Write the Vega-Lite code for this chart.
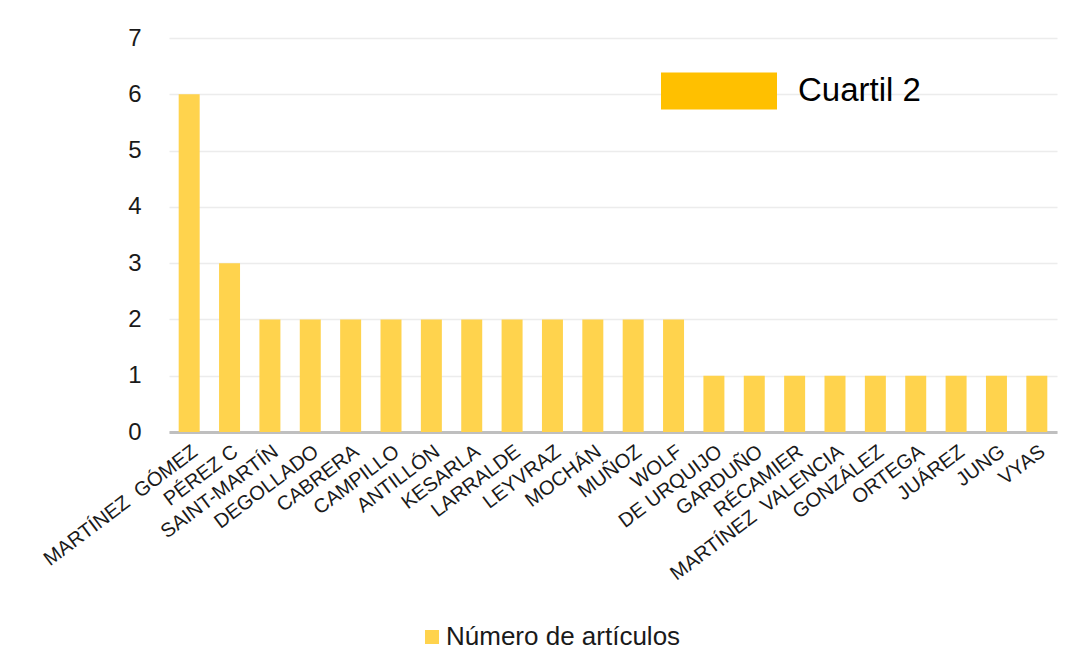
{
  "$schema": "https://vega.github.io/schema/vega-lite/v6.json",
  "autosize": {"type": "none"},
  "padding": {"left": 169, "top": 38, "right": 13, "bottom": 234},
  "width": 888,
  "height": 394,
  "background": "white",
  "data": {
    "values": [
      {"autor": "MARTÍNEZ\u00a0 GÓMEZ", "articulos": 6, "serie": "Número de artículos", "cuartil": "Cuartil 2"},
      {"autor": "PÉREZ C", "articulos": 3, "serie": "Número de artículos", "cuartil": "Cuartil 2"},
      {"autor": "SAINT-MARTÍN", "articulos": 2, "serie": "Número de artículos", "cuartil": "Cuartil 2"},
      {"autor": "DEGOLLADO", "articulos": 2, "serie": "Número de artículos", "cuartil": "Cuartil 2"},
      {"autor": "CABRERA", "articulos": 2, "serie": "Número de artículos", "cuartil": "Cuartil 2"},
      {"autor": "CAMPILLO", "articulos": 2, "serie": "Número de artículos", "cuartil": "Cuartil 2"},
      {"autor": "ANTILLÓN", "articulos": 2, "serie": "Número de artículos", "cuartil": "Cuartil 2"},
      {"autor": "KESARLA", "articulos": 2, "serie": "Número de artículos", "cuartil": "Cuartil 2"},
      {"autor": "LARRALDE", "articulos": 2, "serie": "Número de artículos", "cuartil": "Cuartil 2"},
      {"autor": "LEYVRAZ", "articulos": 2, "serie": "Número de artículos", "cuartil": "Cuartil 2"},
      {"autor": "MOCHÁN", "articulos": 2, "serie": "Número de artículos", "cuartil": "Cuartil 2"},
      {"autor": "MUÑOZ", "articulos": 2, "serie": "Número de artículos", "cuartil": "Cuartil 2"},
      {"autor": "WOLF", "articulos": 2, "serie": "Número de artículos", "cuartil": "Cuartil 2"},
      {"autor": "DE URQUIJO", "articulos": 1, "serie": "Número de artículos", "cuartil": "Cuartil 2"},
      {"autor": "GARDUÑO", "articulos": 1, "serie": "Número de artículos", "cuartil": "Cuartil 2"},
      {"autor": "RÉCAMIER", "articulos": 1, "serie": "Número de artículos", "cuartil": "Cuartil 2"},
      {"autor": "MARTÍNEZ\u00a0 VALENCIA", "articulos": 1, "serie": "Número de artículos", "cuartil": "Cuartil 2"},
      {"autor": "GONZÁLEZ", "articulos": 1, "serie": "Número de artículos", "cuartil": "Cuartil 2"},
      {"autor": "ORTEGA", "articulos": 1, "serie": "Número de artículos", "cuartil": "Cuartil 2"},
      {"autor": "JUÁREZ", "articulos": 1, "serie": "Número de artículos", "cuartil": "Cuartil 2"},
      {"autor": "JUNG", "articulos": 1, "serie": "Número de artículos", "cuartil": "Cuartil 2"},
      {"autor": "VYAS", "articulos": 1, "serie": "Número de artículos", "cuartil": "Cuartil 2"}
    ]
  },
  "mark": {"type": "bar", "strokeWidth": 0},
  "encoding": {
    "x": {
      "field": "autor",
      "type": "nominal",
      "sort": null,
      "scale": {"paddingInner": 0.48, "paddingOuter": 0.24},
      "axis": {
        "title": null,
        "labelAngle": -37,
        "labelFont": "Liberation Sans",
        "labelFontSize": 20,
        "labelColor": "#1a1a1a",
        "labelPadding": 9,
        "labelOverlap": false,
        "labelLimit": 300,
        "ticks": false,
        "domainColor": "#bfbfbf",
        "domainWidth": 3,
        "grid": false
      }
    },
    "y": {
      "field": "articulos",
      "type": "quantitative",
      "scale": {"domain": [0, 7], "nice": false},
      "axis": {
        "title": null,
        "values": [0, 1, 2, 3, 4, 5, 6, 7],
        "labelFont": "Liberation Sans",
        "labelFontSize": 24,
        "labelColor": "#1a1a1a",
        "labelPadding": 28,
        "ticks": false,
        "domain": false,
        "grid": true,
        "gridColor": "#ececec",
        "gridWidth": 1.5
      }
    },
    "fill": {
      "field": "serie",
      "type": "nominal",
      "scale": {"range": ["#FFD34D"]},
      "legend": {
        "title": null,
        "orient": "none",
        "legendX": 250,
        "legendY": 586,
        "padding": 0,
        "symbolType": "square",
        "symbolSize": 196,
        "symbolStrokeWidth": 0,
        "labelFont": "Liberation Sans",
        "labelFontSize": 26,
        "labelColor": "#1a1a1a",
        "labelOffset": 1,
        "labelLimit": 400
      }
    },
    "stroke": {
      "field": "cuartil",
      "type": "nominal",
      "scale": {"range": ["#FFC000"]},
      "legend": {
        "title": null,
        "orient": "none",
        "legendX": 492,
        "legendY": -5,
        "padding": 0,
        "symbolType": "M-1,-0.319H1V0.319H-1Z",
        "symbolSize": 13456,
        "symbolFillColor": "#FFC000",
        "symbolStrokeColor": "#FFC000",
        "symbolStrokeWidth": 0,
        "symbolOpacity": 1,
        "labelFont": "Liberation Sans",
        "labelFontSize": 33,
        "labelColor": "#000000",
        "labelOffset": 21,
        "labelLimit": 400,
        "encode": {
          "symbols": {
            "update": {
              "fill": {"value": "#FFC000"},
              "fillOpacity": {"value": 1}
            }
          }
        }
      }
    }
  },
  "config": {"view": {"stroke": null}}
}
